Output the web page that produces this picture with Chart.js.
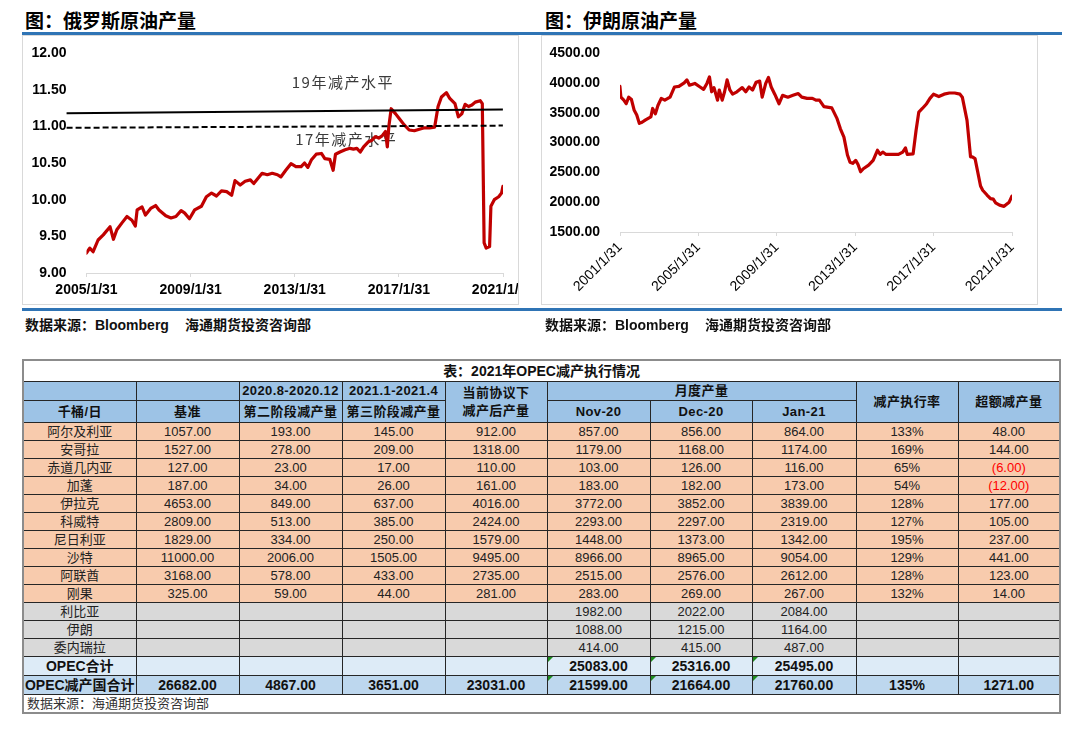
<!DOCTYPE html>
<html lang="zh-CN">
<head>
<meta charset="utf-8">
<title>俄罗斯、伊朗原油产量与OPEC减产执行情况</title>
<script src="https://cdn.jsdelivr.net/npm/chart.js@4.4.1/dist/chart.umd.min.js"></script>
<style>
  html, body { margin: 0; padding: 0; background: #fff; }
  body {
    width: 1080px; height: 737px; position: relative; overflow: hidden;
    font-family: 'Liberation Sans', Arial, 'Noto Sans CJK SC', sans-serif; color: #000;
  }
  .fig-title {
    position: absolute; top: 8px; font-family: 'Noto Sans CJK SC', sans-serif;
    font-size: 19px; font-weight: bold; line-height: 24px; white-space: nowrap;
  }
  .rule { position: absolute; left: 22px; width: 1040px; background: #2f74b5; }
  .frame { position: absolute; top: 35px; width: 497px; height: 270px; border: 1px solid #d9d9d9; box-sizing: border-box; pointer-events: none; }
  .clip { position: absolute; top: 35px; width: 497px; height: 270px; overflow: hidden; }
  .clip > div { position: absolute; left: 0; top: 0; height: 270px; }
  .source {
    position: absolute; top: 316px; font-family: 'Liberation Sans', 'Noto Sans CJK SC', sans-serif;
    font-size: 14px; font-weight: bold; line-height: 18px; white-space: nowrap; color: #111;
  }
  .source .gap { display: inline-block; width: 16px; }

  /* ── OPEC table ── */
  #opec {
    position: absolute; left: 22px; top: 359px; width: 1038px;
    border-collapse: collapse; table-layout: fixed;
    border: 2px solid #8c8c8c;
    font-family: 'Liberation Sans', 'Noto Sans CJK SC', sans-serif; font-size: 13px; color: #222;
  }
  #opec td { border: 1px solid #262626; padding: 0; text-align: center; line-height: 16px; white-space: nowrap; overflow: hidden; position: relative; }
  #opec .cap td { height: 20px; border: none; border-bottom: 1px solid #262626; font-weight: bold; font-size: 14px; background: #fff; color: #111; }
  #opec .hd td { background: #9dc3e6; font-weight: bold; color: #111; letter-spacing: 0.4px; }
  #opec .h1 td { height: 18px; }
  #opec .h2 td { height: 21px; }
  #opec .peach td { background: #f8cbad; height: 17px; }
  #opec .grey td { background: #d9d9d9; height: 17px; }
  #opec .sum td { background: #ddebf7; height: 18px; font-weight: bold; font-size: 14px; color: #111; }
  #opec .total td { background: #bdd7ee; height: 18px; font-weight: bold; font-size: 14px; color: #111; }
  #opec .src td { height: 17px; border: none; border-top: 1px solid #262626; text-align: left; padding-left: 3px; background: #fff; color: #333; }
  #opec .neg { color: #ff0000; }
  #opec td.flag::before {
    content: ''; position: absolute; left: 0; top: 0;
    border-top: 5px solid #1e8c1e; border-right: 5px solid transparent;
  }
</style>
</head>
<body>

<div class="fig-title" style="left:25px">图：俄罗斯原油产量</div>
<div class="fig-title" style="left:545px">图：伊朗原油产量</div>
<div class="rule" style="top:32px;height:2.5px"></div>

<div class="clip" style="left:22px"><div style="width:560px"><canvas id="russiaChart"></canvas></div></div>
<div class="frame" style="left:22px"></div>

<div class="clip" style="left:541px"><div style="width:497px"><canvas id="iranChart"></canvas></div></div>
<div class="frame" style="left:541px"></div>

<div class="rule" style="top:308px;height:2.5px"></div>
<div class="source" style="left:25px">数据来源：Bloomberg<span class="gap"></span>海通期货投资咨询部</div>
<div class="source" style="left:545px">数据来源：Bloomberg<span class="gap"></span>海通期货投资咨询部</div>

<table id="opec">
  <colgroup>
    <col style="width:113px"><col style="width:103px"><col style="width:103px"><col style="width:103px"><col style="width:102px">
    <col style="width:103px"><col style="width:102px"><col style="width:104px"><col style="width:102px"><col style="width:102px">
  </colgroup>
  <tbody>
    <tr class="cap"><td colspan="10">表：2021年OPEC减产执行情况</td></tr>
    <tr class="hd h1">
      <td></td><td></td><td>2020.8-2020.12</td><td>2021.1-2021.4</td>
      <td rowspan="2" style="line-height:18px">当前协议下<br>减产后产量</td>
      <td colspan="3">月度产量</td>
      <td rowspan="2">减产执行率</td><td rowspan="2">超额减产量</td>
    </tr>
    <tr class="hd h2">
      <td>千桶/日</td><td>基准</td><td>第二阶段减产量</td><td>第三阶段减产量</td>
      <td>Nov-20</td><td>Dec-20</td><td>Jan-21</td>
    </tr>
  </tbody>
</table>

<script>
// ============================================
// 俄罗斯 / 伊朗原油产量 + OPEC 减产执行情况表
// ============================================

// ── 俄罗斯原油产量 (百万桶/日) ──
const RU_DATES = [
  2005.08, 2005.21, 2005.34, 2005.53, 2005.73, 2005.99, 2006.12, 2006.25, 2006.44, 2006.64,
  2006.83, 2006.96, 2007.03, 2007.22, 2007.35, 2007.55, 2007.74, 2007.87, 2008.13, 2008.33,
  2008.52, 2008.72, 2008.85, 2009.04, 2009.24, 2009.50, 2009.69, 2009.89, 2010.08, 2010.27,
  2010.47, 2010.66, 2010.79, 2010.99, 2011.18, 2011.38, 2011.51, 2011.83, 2012.03, 2012.22,
  2012.42, 2012.55, 2012.74, 2012.94, 2013.13, 2013.33, 2013.46, 2013.59, 2013.72, 2013.91,
  2014.11, 2014.24, 2014.43, 2014.56, 2014.65, 2014.82, 2015.02, 2015.21, 2015.34, 2015.47,
  2015.60, 2015.73, 2015.92, 2016.05, 2016.18, 2016.31, 2016.44, 2016.57, 2016.64, 2016.70,
  2016.79, 2016.96, 2017.09, 2017.29, 2017.48, 2017.68, 2017.87, 2018.07, 2018.26, 2018.46,
  2018.59, 2018.72, 2018.91, 2019.04, 2019.24, 2019.37, 2019.50, 2019.63, 2019.76, 2019.89,
  2020.02, 2020.21, 2020.29, 2020.36, 2020.44, 2020.57, 2020.62, 2020.75, 2020.92, 2021.03,
  2021.08,
];
const RU_OUTPUT = [
  9.27, 9.34, 9.29, 9.45, 9.52, 9.63, 9.46, 9.59, 9.68, 9.77,
  9.72, 9.64, 9.86, 9.90, 9.79, 9.88, 9.92, 9.86, 9.78, 9.75,
  9.77, 9.85, 9.82, 9.74, 9.86, 9.91, 10.04, 10.09, 10.05, 10.12,
  10.11, 10.06, 10.26, 10.20, 10.25, 10.27, 10.22, 10.36, 10.34, 10.36,
  10.34, 10.31, 10.40, 10.49, 10.45, 10.45, 10.50, 10.44, 10.54, 10.62,
  10.63, 10.56, 10.55, 10.40, 10.62, 10.65, 10.68, 10.70, 10.69, 10.70,
  10.65, 10.72, 10.79, 10.81, 10.86, 10.84, 10.87, 10.93, 10.72, 11.00,
  11.24, 11.17, 11.11, 11.02, 10.95, 10.94, 10.96, 10.98, 10.98, 10.99,
  11.27, 11.40, 11.46, 11.38, 11.31, 11.13, 11.17, 11.30, 11.27, 11.29,
  11.33, 11.35, 11.31, 9.41, 9.34, 9.36, 9.91, 10.00, 10.04, 10.09,
  10.18,
];
// 19年 / 17年减产水平参考线 (起点, 终点)
const RU_LEVEL_DATES = [2004.32, 2021.08];
const RU_LEVEL_19 = [11.18, 11.23];
const RU_LEVEL_17 = [10.98, 11.01];
const RU_TICKS = ['2005/1/31', '2009/1/31', '2013/1/31', '2017/1/31', '2021/1/31'];

// ── 伊朗原油产量 (千桶/日) ──
const IR_DATES = [
  2001.08, 2001.13, 2001.28, 2001.40, 2001.53, 2001.67, 2001.81, 2001.94, 2002.07, 2002.21,
  2002.39, 2002.66, 2002.75, 2002.89, 2003.02, 2003.19, 2003.37, 2003.64, 2003.86, 2004.09,
  2004.36, 2004.50, 2004.63, 2004.90, 2005.17, 2005.35, 2005.52, 2005.65, 2005.76, 2005.88,
  2006.06, 2006.15, 2006.30, 2006.42, 2006.55, 2006.69, 2006.83, 2007.05, 2007.32, 2007.50,
  2007.67, 2007.85, 2008.03, 2008.21, 2008.34, 2008.52, 2008.66, 2008.80, 2008.98, 2009.20,
  2009.38, 2009.65, 2009.91, 2010.18, 2010.36, 2010.63, 2010.90, 2011.08, 2011.26, 2011.49,
  2011.89, 2012.16, 2012.33, 2012.51, 2012.69, 2012.82, 2012.96, 2013.11, 2013.23, 2013.36,
  2013.50, 2013.77, 2014.00, 2014.22, 2014.36, 2014.49, 2014.66, 2015.29, 2015.51, 2015.65,
  2015.74, 2016.04, 2016.19, 2016.33, 2016.51, 2016.73, 2016.90, 2017.08, 2017.35, 2017.62,
  2017.89, 2018.16, 2018.43, 2018.55, 2018.79, 2018.97, 2019.06, 2019.20, 2019.48, 2019.59,
  2019.81, 2019.99, 2020.13, 2020.25, 2020.45, 2020.68, 2020.94, 2021.08,
];
const IR_OUTPUT = [
  3940, 3760, 3710, 3650, 3760, 3720, 3540, 3460, 3320, 3340,
  3380, 3430, 3570, 3480, 3620, 3740, 3710, 3760, 3930, 3940,
  4000, 4050, 3960, 3990, 3930, 3890, 3990, 4100, 3850, 3920,
  3710, 3880, 3710, 3850, 4050, 3880, 3810, 3850, 3920, 3850,
  3930, 3880, 4010, 4030, 3760, 3990, 4090, 3930, 3810, 3650,
  3790, 3760, 3790, 3820, 3760, 3740, 3740, 3710, 3710, 3600,
  3580, 3400, 3230, 3090, 2790, 2670, 2650, 2700, 2630, 2510,
  2560, 2620, 2700, 2870, 2800, 2840, 2800, 2800, 2840, 2910,
  2800, 2810, 3200, 3510, 3570, 3650, 3740, 3810, 3770, 3810,
  3830, 3830, 3810, 3760, 3370, 2760, 2760, 2730, 2270, 2200,
  2120, 2060, 2050, 1990, 1950, 1930, 2000, 2100,
];
const IR_TICKS = ['2001/1/31', '2005/1/31', '2009/1/31', '2013/1/31', '2017/1/31', '2021/1/31'];

// ── OPEC 减产执行情况 (千桶/日) ──
const COUNTRIES   = ['阿尔及利亚', '安哥拉', '赤道几内亚', '加蓬', '伊拉克', '科威特', '尼日利亚', '沙特', '阿联酋', '刚果', '利比亚', '伊朗', '委内瑞拉'];
const BASELINE    = [1057, 1527, 127, 187, 4653, 2809, 1829, 11000, 3168, 325, null, null, null];
const CUT_PHASE2  = [193, 278, 23, 34, 849, 513, 334, 2006, 578, 59, null, null, null];
const CUT_PHASE3  = [145, 209, 17, 26, 637, 385, 250, 1505, 433, 44, null, null, null];
const TARGET      = [912, 1318, 110, 161, 4016, 2424, 1579, 9495, 2735, 281, null, null, null];
const NOV20       = [857, 1179, 103, 183, 3772, 2293, 1448, 8966, 2515, 283, 1982, 1088, 414];
const DEC20       = [856, 1168, 126, 182, 3852, 2297, 1373, 8965, 2576, 269, 2022, 1215, 415];
const JAN21       = [864, 1174, 116, 173, 3839, 2319, 1342, 9054, 2612, 267, 2084, 1164, 487];
const COMPLIANCE  = [133, 169, 65, 54, 128, 127, 195, 129, 128, 132, null, null, null];
const EXTRA_CUT   = [48, 144, -6, -12, 177, 105, 237, 441, 123, 14, null, null, null];
const EXEMPT      = ['利比亚', '伊朗', '委内瑞拉'];
const OPEC_SUM    = [25083, 25316, 25495];
const CUTTERS_SUM = [26682, 4867, 3651, 23031, 21599, 21664, 21760, 135, 1271];

const RED = '#c00000';
const TICK_FONT = { family: 'Liberation Sans', size: 14, weight: 'bold' };
const AXIS_GREY = '#d9d9d9';

const tickValue = label => {
  const [y, m, d] = label.split('/').map(Number);
  return y + (m - 1) / 12 + d / 365;
};
const points = (xs, ys) => xs.map((x, i) => ({ x, y: ys[i] }));

/**
 * Text notes drawn under the series (19年 / 17年减产水平)
 */
const levelNotes = {
  id: 'levelNotes',
  beforeDatasetsDraw(chart) {
    const notes = chart.config.options.levelNotes;
    if (!notes) return;
    const { ctx, scales: { x, y } } = chart;
    ctx.save();
    ctx.font = '15px "Noto Sans CJK SC"';
    ctx.fillStyle = '#3a3a3a';
    ctx.textBaseline = 'middle';
    ctx.letterSpacing = '1.5px';
    notes.forEach(n => ctx.fillText(n.text, x.getPixelForValue(n.x), y.getPixelForValue(n.y)));
    ctx.restore();
  },
};

function xAxis(ticks, height, extra) {
  return {
    type: 'linear',
    min: tickValue(ticks[0]),
    max: tickValue(ticks[ticks.length - 1]),
    afterBuildTicks: axis => { axis.ticks = ticks.map(t => ({ value: tickValue(t) })); },
    afterFit: axis => { axis.height = height; },
    border: { color: AXIS_GREY, width: 1 },
    grid: { drawOnChartArea: false, drawTicks: true, tickLength: 4, color: AXIS_GREY },
    ticks: { autoSkip: false, color: '#000', callback: (v, i) => ticks[i], ...extra },
  };
}

function yAxis(min, max, step, width) {
  return {
    min, max,
    // keep the label gap without pushing the plot top / bottom inwards
    afterFit: axis => { axis.width = width; axis.paddingTop = 8; axis.paddingBottom = 8; },
    border: { display: false },
    grid: { display: false, drawTicks: false },
    ticks: { stepSize: step, padding: 20, color: '#000', font: TICK_FONT, callback: v => v.toFixed(2) },
  };
}

/**
 * Russia crude output with the 2017 / 2019 quota levels
 */
function renderRussia(canvasId) {
  const ctx = document.getElementById(canvasId);
  if (!ctx) return;

  new Chart(ctx, {
    type: 'line',
    plugins: [levelNotes],
    data: {
      datasets: [
        {
          label: '19年减产水平',
          data: points(RU_LEVEL_DATES, RU_LEVEL_19),
          borderColor: '#000', borderWidth: 2, pointRadius: 0, clip: false,
        },
        {
          label: '17年减产水平',
          data: points(RU_LEVEL_DATES, RU_LEVEL_17),
          borderColor: '#000', borderWidth: 2, borderDash: [6, 3], pointRadius: 0, clip: false,
        },
        {
          label: '俄罗斯原油产量',
          data: points(RU_DATES, RU_OUTPUT),
          borderColor: RED, borderWidth: 3.2, pointRadius: 0, tension: 0,
          borderJoinStyle: 'round', borderCapStyle: 'round',
        },
      ],
    },
    options: {
      responsive: true,
      maintainAspectRatio: false,
      animation: false,
      layout: { padding: { top: 18, right: 79, left: 0, bottom: 0 } },
      plugins: { legend: { display: false }, tooltip: { enabled: false } },
      levelNotes: [
        { text: '19年减产水平', x: 2012.97, y: 11.60 },
        { text: '17年减产水平', x: 2013.10, y: 10.82 },
      ],
      scales: {
        x: xAxis(RU_TICKS, 32, { maxRotation: 0, minRotation: 0, padding: 5, font: TICK_FONT }),
        y: yAxis(9, 12, 0.5, 64.5),
      },
    },
  });
}

/**
 * Iran crude output
 */
function renderIran(canvasId) {
  const ctx = document.getElementById(canvasId);
  if (!ctx) return;

  new Chart(ctx, {
    type: 'line',
    data: {
      datasets: [{
        label: '伊朗原油产量',
        data: points(IR_DATES, IR_OUTPUT),
        borderColor: RED, borderWidth: 3.2, pointRadius: 0, tension: 0,
        borderJoinStyle: 'round', borderCapStyle: 'round',
      }],
    },
    options: {
      responsive: true,
      maintainAspectRatio: false,
      animation: false,
      layout: { padding: { top: 18, right: 26, left: 0, bottom: 0 } },
      plugins: { legend: { display: false }, tooltip: { enabled: false } },
      scales: {
        x: xAxis(IR_TICKS, 73, {
          maxRotation: 45, minRotation: 45, padding: 3,
          font: { family: 'Liberation Sans', size: 14 },
        }),
        y: yAxis(1500, 4500, 500, 79),
      },
    },
  });
}

/**
 * OPEC compliance table body
 */
function renderTable(tableId) {
  const tbody = document.querySelector('#' + tableId + ' tbody');
  if (!tbody) return;

  const fmt = v => (v == null ? '' : v.toFixed(2));
  const cell = (text, cls) => `<td${cls ? ` class="${cls}"` : ''}>${text}</td>`;

  COUNTRIES.forEach((name, i) => {
    const extra = EXTRA_CUT[i];
    const extraCell = extra == null ? cell('')
      : extra < 0 ? cell(`(${Math.abs(extra).toFixed(2)})`, 'neg') : cell(fmt(extra));
    const row = [
      cell(name), cell(fmt(BASELINE[i])), cell(fmt(CUT_PHASE2[i])), cell(fmt(CUT_PHASE3[i])), cell(fmt(TARGET[i])),
      cell(fmt(NOV20[i])), cell(fmt(DEC20[i])), cell(fmt(JAN21[i])),
      cell(COMPLIANCE[i] == null ? '' : COMPLIANCE[i] + '%'), extraCell,
    ];
    const cls = EXEMPT.includes(name) ? 'grey' : 'peach';
    tbody.insertAdjacentHTML('beforeend', `<tr class="${cls}">${row.join('')}</tr>`);
  });

  const sumRow = [cell('OPEC合计'), cell(''), cell(''), cell(''), cell('')]
    .concat(OPEC_SUM.map(v => cell(fmt(v), 'flag')), [cell(''), cell('')]);
  tbody.insertAdjacentHTML('beforeend', `<tr class="sum">${sumRow.join('')}</tr>`);

  const t = CUTTERS_SUM;
  const totalRow = [
    cell('OPEC减产国合计'), cell(fmt(t[0])), cell(fmt(t[1])), cell(fmt(t[2])), cell(fmt(t[3])),
    cell(fmt(t[4]), 'flag'), cell(fmt(t[5]), 'flag'), cell(fmt(t[6]), 'flag'),
    cell(t[7] + '%'), cell(fmt(t[8])),
  ];
  tbody.insertAdjacentHTML('beforeend', `<tr class="total">${totalRow.join('')}</tr>`);
  tbody.insertAdjacentHTML('beforeend', '<tr class="src"><td colspan="10">数据来源：海通期货投资咨询部</td></tr>');
}

renderRussia('russiaChart');
renderIran('iranChart');
renderTable('opec');
</script>
</body>
</html>
